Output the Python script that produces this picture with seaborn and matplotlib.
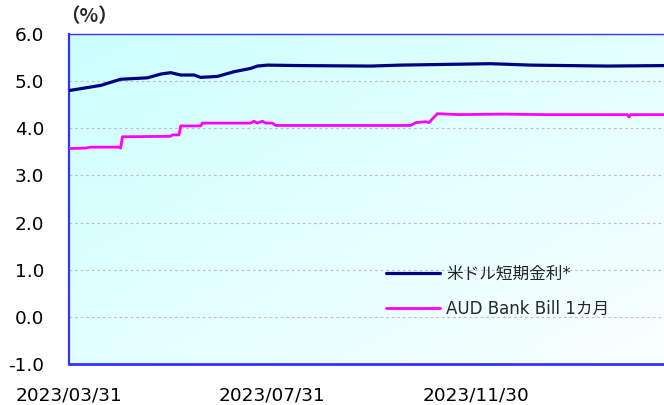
import numpy as np
import pandas as pd
import matplotlib
matplotlib.use('Agg')
import matplotlib.pyplot as plt
import seaborn as sns

# data
us_dates = ['2023-03-31', '2023-04-19', '2023-05-01', '2023-05-17', '2023-05-25',
            '2023-05-31', '2023-06-06', '2023-06-14', '2023-06-18', '2023-06-28',
            '2023-07-08', '2023-07-18', '2023-07-22', '2023-07-28', '2023-08-17',
            '2023-09-28', '2023-10-16', '2023-12-09', '2024-01-02', '2024-02-17',
            '2024-03-22']
us_rate = [4.80, 4.91, 5.04, 5.07, 5.15,
           5.18, 5.13, 5.13, 5.08, 5.10,
           5.20, 5.27, 5.32, 5.34, 5.33,
           5.32, 5.34, 5.37, 5.34, 5.32,
           5.33]

aud_dates = ['2023-03-31', '2023-04-10', '2023-04-13', '2023-04-30', '2023-05-01',
             '2023-05-02', '2023-05-31', '2023-06-01', '2023-06-05', '2023-06-06',
             '2023-06-18', '2023-06-19', '2023-07-18', '2023-07-20', '2023-07-22',
             '2023-07-25', '2023-07-27', '2023-07-31', '2023-08-02', '2023-10-22',
             '2023-10-25', '2023-10-31', '2023-11-02', '2023-11-04', '2023-11-07',
             '2023-11-20', '2023-12-15', '2024-01-10', '2024-02-29', '2024-03-01',
             '2024-03-02', '2024-03-22']
aud_rate = [3.57, 3.58, 3.60, 3.60, 3.58,
            3.82, 3.83, 3.86, 3.86, 4.05,
            4.05, 4.11, 4.11, 4.15, 4.11,
            4.15, 4.11, 4.11, 4.06, 4.06,
            4.12, 4.14, 4.12, 4.20, 4.31,
            4.29, 4.30, 4.29, 4.29, 4.24,
            4.29, 4.29]

series_names = ['米ドル短期金利*', 'AUD Bank Bill 1カ月']
series_colors = ['#000080', '#ff00ff']
xtick_labels = ['2023/03/31', '2023/07/31', '2023/11/30']
yticks = [-1.0, 0.0, 1.0, 2.0, 3.0, 4.0, 5.0, 6.0]

df = pd.concat([
    pd.DataFrame({'date': pd.to_datetime(us_dates), 'rate': us_rate, 'series': series_names[0]}),
    pd.DataFrame({'date': pd.to_datetime(aud_dates), 'rate': aud_rate, 'series': series_names[1]}),
])

sns.set_style('white')
plt.rcParams['font.family'] = ['DejaVu Sans', 'Noto Sans CJK JP']

fig = plt.figure(figsize=(6.64, 4.05), dpi=100)
ax = fig.add_axes([69 / 664, 41 / 405, 595 / 664, 330 / 405])

# gradient background, cyan top-left to almost white bottom-right
gx, gy = np.meshgrid(np.linspace(0, 1, 200), np.linspace(0, 1, 200))
t = (gx + gy) / 2
grad = np.dstack([0.80 + 0.18 * t, np.ones_like(t), np.ones_like(t)])
ax.imshow(grad, extent=[0, 1, 0, 1], transform=ax.transAxes, aspect='auto',
          origin='upper', zorder=0)

sns.lineplot(data=df, x='date', y='rate', hue='series', hue_order=series_names,
             palette=series_colors, ax=ax, zorder=3, estimator=None)
for line, lw in zip(ax.get_lines(), [2.3, 2.0]):
    line.set_linewidth(lw)

ax.set_xlim(pd.Timestamp('2023-03-31'), pd.Timestamp('2024-03-22'))
ax.set_ylim(-1.0, 6.0)
ax.set_yticks(yticks)
ax.set_yticklabels([f'{v:.1f}' for v in yticks])
ax.set_xticks(pd.to_datetime(xtick_labels))
ax.set_xticklabels(xtick_labels)
ax.set_xlabel('')
ax.set_ylabel('')

for v in yticks[1:-1]:
    ax.axhline(v, color='#c0c0c0', lw=0.8, ls=(0, (2.5, 2.5)), zorder=1)

for side in ['left', 'bottom', 'top']:
    ax.spines[side].set_color('#3333ff')
ax.spines['left'].set_linewidth(1.6)
ax.spines['bottom'].set_linewidth(2.0)
ax.spines['top'].set_linewidth(1.0)
ax.spines['right'].set_visible(False)

ax.tick_params(axis='both', direction='in', length=5, width=1.2, color='#3333ff',
               labelsize=13.3, labelcolor='#000000')
ax.tick_params(axis='y', pad=18)
ax.tick_params(axis='x', pad=16)

handles, labels = ax.get_legend_handles_labels()
for h, lw in zip(handles, [2.3, 2.0]):
    h.set_linewidth(lw)
ax.legend(handles, labels, frameon=False, loc='upper left',
          bbox_to_anchor=(0.508, 0.345), fontsize=12, handlelength=3.2,
          handletextpad=0.4, labelspacing=1.0)

fig.text(60 / 664, 1 - 17 / 405, '（%）', fontsize=14, fontweight='bold',
         va='center', ha='left', family=['Noto Sans CJK JP', 'DejaVu Sans'])

plt.savefig('out.png', dpi=100)
